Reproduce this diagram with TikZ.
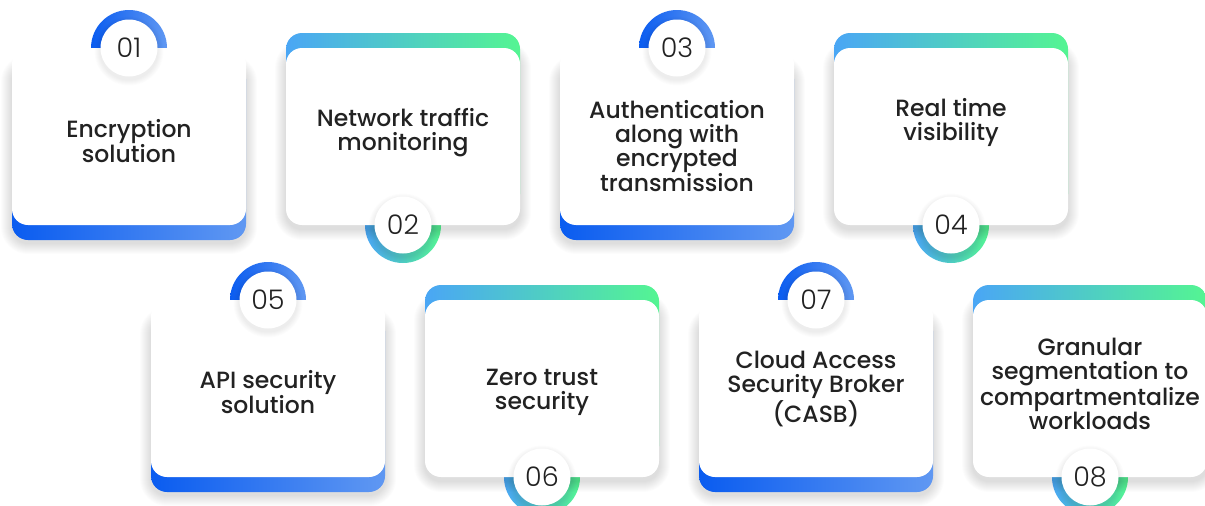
\documentclass[tikz,border=0pt]{standalone}
\usepackage{fontspec}
\newfontfamily\labelfont{Poppins Medium}
\newfontfamily\numfont{Poppins Light}

\definecolor{blueA}{RGB}{10,92,240}
\definecolor{blueB}{RGB}{96,152,242}
\definecolor{skyA}{RGB}{74,166,245}
\definecolor{mintA}{RGB}{84,245,146}
\definecolor{ink}{RGB}{34,34,34}

\tikzset{
  cardface/.style={fill=white, rounded corners=16pt},
  blueband/.style={left color=blueA, right color=blueB, rounded corners=16pt},
  mintband/.style={left color=skyA, right color=mintA, rounded corners=16pt},
  bluering/.style={left color=blueA, right color=blueB},
  mintring/.style={left color=skyA, right color=mintA},
  haze/.style={fill=black, fill opacity=0.011},
  badge/.style={circle, fill=white, minimum size=57pt, inner sep=0pt,
    font=\numfont\fontsize{27}{27}\selectfont, text=ink},
  cardtext/.style={align=center, text=ink,
    font=\labelfont\fontsize{23.5}{24}\selectfont},
}

% soft shadow: stacked, slightly larger translucent rounded rectangles
\newcommand\cardshadow[2]{%
  \foreach \g in {1,...,11}{%
    \fill[haze, rounded corners=16pt+\g pt]
      (#1-\g,#2+4-\g) rectangle (#1+234+\g,#2+181+\g);
  }%
}
\newcommand\badgeshadow[2]{%
  \foreach \g in {1,...,6}{%
    \fill[haze] (#1,#2+3) circle (28.5+\g);
  }%
}

% card with a blue band below and the number badge on top
\newcommand\lowcard[6]{%
  \shade[bluering] (#2+117,#3) circle (38);
  \cardshadow{#2}{#3+14}
  \shade[blueband] (#2,#3+15) rectangle (#2+234,#3+192);
  \path[cardface] (#2,#3) rectangle (#2+234,#3+177);
  \badgeshadow{#2+117}{#3}
  \node[badge] (#1b) at (#2+117,#3) {#4};
  \node[cardtext] (#1) at (#2+117,#5) {#6};
}
% card with a green band above and the number badge below
\newcommand\highcard[6]{%
  \shade[mintring] (#2+117,#3+177) circle (38);
  \cardshadow{#2}{#3}
  \shade[mintband] (#2,#3-15) rectangle (#2+234,#3+162);
  \path[cardface] (#2,#3) rectangle (#2+234,#3+177);
  \badgeshadow{#2+117}{#3+177}
  \node[badge] (#1b) at (#2+117,#3+177) {#4};
  \node[cardtext] (#1) at (#2+117,#5) {#6};
}

\begin{document}
\begin{tikzpicture}[x=1pt,y=-1pt]
  \useasboundingbox (0,0) rectangle (1205,506);
  \fill[white] (0,0) rectangle (1205,506);
  \clip (0,0) rectangle (1205,506);

  \lowcard{c1}{12}{48}{01}{141}{Encryption\\solution}
  \highcard{c2}{286}{48}{02}{133}{Network traffic\\monitoring}
  \lowcard{c3}{560}{48}{03}{146}{Authentication\\along with\\encrypted\\transmission}
  \highcard{c4}{834}{48}{04}{122}{Real time\\visibility}

  \lowcard{c5}{151}{300}{05}{392}{API security\\solution}
  \highcard{c6}{425}{300}{06}{392}{Zero trust\\security}
  \lowcard{c7}{699}{300}{07}{389}{Cloud Access\\Security Broker\\(CASB)}
  \highcard{c8}{973}{300}{08}{384}{Granular\\segmentation to\\compartmentalize\\workloads}
\end{tikzpicture}
\end{document}
